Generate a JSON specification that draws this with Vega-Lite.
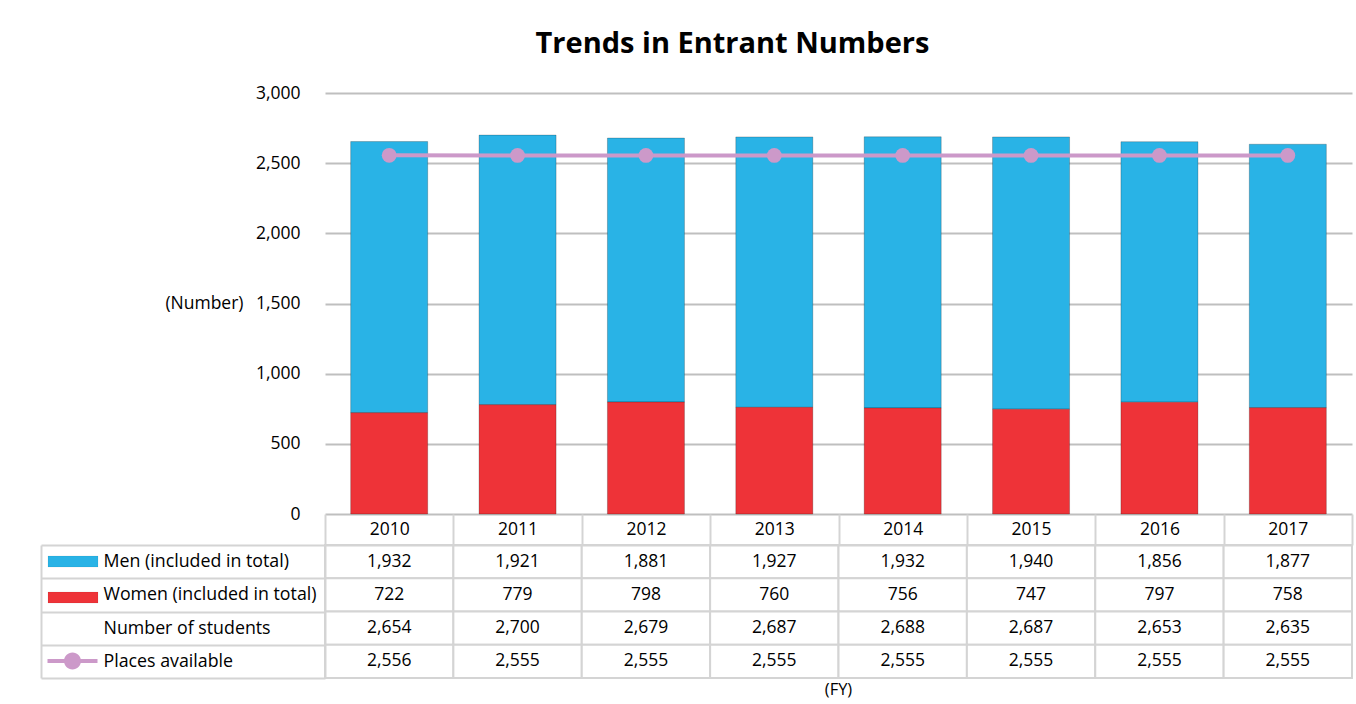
{
  "$schema": "https://vega.github.io/schema/vega-lite/v6.json",
  "background": "white",
  "padding": {"left": 40, "top": 30, "right": 3, "bottom": 0},
  "autosize": {"type": "pad"},
  "config": {
    "font": "Open Sans",
    "view": {"stroke": null},
    "axis": {"labelColor": "black", "titleColor": "black", "labelFont": "Open Sans", "titleFont": "Open Sans"},
    "legend": {"labelFont": "Open Sans"}
  },
  "title": {
    "text": "Trends in Entrant Numbers",
    "font": "Open Sans",
    "fontSize": 29,
    "fontWeight": "bold",
    "color": "black",
    "anchor": "middle",
    "dx": 36,
    "offset": 25
  },
  "data": {
    "values": [
      {"year": 2010, "series": "Men (included in total)", "value": 1932},
      {"year": 2011, "series": "Men (included in total)", "value": 1921},
      {"year": 2012, "series": "Men (included in total)", "value": 1881},
      {"year": 2013, "series": "Men (included in total)", "value": 1927},
      {"year": 2014, "series": "Men (included in total)", "value": 1932},
      {"year": 2015, "series": "Men (included in total)", "value": 1940},
      {"year": 2016, "series": "Men (included in total)", "value": 1856},
      {"year": 2017, "series": "Men (included in total)", "value": 1877},
      {"year": 2010, "series": "Women (included in total)", "value": 722},
      {"year": 2011, "series": "Women (included in total)", "value": 779},
      {"year": 2012, "series": "Women (included in total)", "value": 798},
      {"year": 2013, "series": "Women (included in total)", "value": 760},
      {"year": 2014, "series": "Women (included in total)", "value": 756},
      {"year": 2015, "series": "Women (included in total)", "value": 747},
      {"year": 2016, "series": "Women (included in total)", "value": 797},
      {"year": 2017, "series": "Women (included in total)", "value": 758},
      {"year": 2010, "series": "Number of students", "value": 2654},
      {"year": 2011, "series": "Number of students", "value": 2700},
      {"year": 2012, "series": "Number of students", "value": 2679},
      {"year": 2013, "series": "Number of students", "value": 2687},
      {"year": 2014, "series": "Number of students", "value": 2688},
      {"year": 2015, "series": "Number of students", "value": 2687},
      {"year": 2016, "series": "Number of students", "value": 2653},
      {"year": 2017, "series": "Number of students", "value": 2635},
      {"year": 2010, "series": "Places available", "value": 2556},
      {"year": 2011, "series": "Places available", "value": 2555},
      {"year": 2012, "series": "Places available", "value": 2555},
      {"year": 2013, "series": "Places available", "value": 2555},
      {"year": 2014, "series": "Places available", "value": 2555},
      {"year": 2015, "series": "Places available", "value": 2555},
      {"year": 2016, "series": "Places available", "value": 2555},
      {"year": 2017, "series": "Places available", "value": 2555}
    ]
  },
  "spacing": 31,
  "bounds": "flush",
  "resolve": {
    "scale": {"color": "independent", "fill": "independent"},
    "legend": {"color": "independent", "fill": "independent"}
  },
  "vconcat": [
    {
      "width": 1027,
      "height": 421,
      "layer": [
        {
          "transform": [{"filter": {"field": "series", "oneOf": ["Men (included in total)", "Women (included in total)"]}}],
          "mark": {"type": "bar", "stroke": "rgba(0,0,0,0.22)", "strokeWidth": 1},
          "encoding": {
            "x": {"field": "year", "type": "ordinal", "axis": null, "scale": {"paddingInner": 0.4, "paddingOuter": 0.2}},
            "y": {
              "field": "value", "type": "quantitative", "stack": "zero",
              "scale": {"domain": [0, 3000]},
              "axis": {
                "values": [0, 500, 1000, 1500, 2000, 2500, 3000],
                "format": ",.0f",
                "title": "(Number)",
                "titleAngle": 0,
                "titleAlign": "right",
                "titleBaseline": "middle",
                "titleX": -82,
                "titleY": 210,
                "titleFontWeight": "normal",
                "titleFontSize": 17.5,
                "labelFontSize": 17.5,
                "labelPadding": 25,
                "ticks": false,
                "domain": false,
                "gridColor": "#bfbfbf",
                "gridWidth": 2
              }
            },
            "color": {
              "field": "series", "type": "nominal",
              "scale": {"domain": ["Men (included in total)", "Women (included in total)"], "range": ["#29b3e6", "#ee3338"]},
              "legend": {
                "orient": "none",
                "legendX": -257.5,
                "legendY": 463,
                "title": null,
                "padding": 0,
                "symbolType": "M-5,-1.1H5V1.1H-5Z",
                "symbolSize": 100,
                "symbolStrokeColor": "rgba(0,0,0,0.3)",
                "symbolStrokeWidth": 0.2,
                "rowPadding": 23,
                "labelExpr": "''",
                "labelFontSize": 10
              }
            },
            "order": {"field": "series", "sort": "descending"}
          }
        },
        {
          "transform": [{"filter": {"field": "series", "equal": "Places available"}}],
          "mark": {"type": "line", "color": "#cc99c9", "strokeWidth": 4},
          "encoding": {
            "x": {"field": "year", "type": "ordinal"},
            "y": {"field": "value", "type": "quantitative"}
          }
        },
        {
          "transform": [{"filter": {"field": "series", "equal": "Places available"}}],
          "mark": {"type": "circle", "size": 220, "opacity": 1},
          "encoding": {
            "x": {"field": "year", "type": "ordinal"},
            "y": {"field": "value", "type": "quantitative"},
            "fill": {
              "field": "series", "type": "nominal",
              "scale": {"range": ["#cc99c9"]},
              "legend": {
                "orient": "none",
                "legendX": -257.5,
                "legendY": 563,
                "title": null,
                "padding": 0,
                "symbolType": "M-5,-0.4H5V0.4H-5Z M1.7,0A1.7,1.7,0,1,1,-1.7,0A1.7,1.7,0,1,1,1.7,0Z",
                "symbolSize": 100,
                "symbolStrokeWidth": 0,
                "labelExpr": "''",
                "labelFontSize": 10
              }
            }
          }
        }
      ]
    },
    {
      "width": 1027,
      "height": 133,
      "title": {"text": "(FY)", "orient": "bottom", "anchor": "middle", "fontSize": 16.5, "fontWeight": "normal", "font": "Open Sans", "color": "black", "offset": 3},
      "resolve": {"axis": {"y": "independent"}},
      "layer": [
        {
          "mark": {"type": "rect", "fill": "white", "stroke": "#d4d4d4", "strokeWidth": 2},
          "encoding": {
            "x": {
              "field": "year", "type": "ordinal",
              "scale": {"paddingInner": 0, "paddingOuter": 0},
              "axis": {
                "orient": "top",
                "title": null,
                "tickBand": "extent",
                "tickSize": 31,
                "tickColor": "#d4d4d4",
                "tickWidth": 2,
                "domainColor": "#d4d4d4",
                "domainWidth": 2,
                "labelAngle": 0,
                "labelBaseline": "middle",
                "labelPadding": -15.5,
                "labelFontSize": 17.5
              }
            },
            "y": {
              "field": "series", "type": "nominal",
              "sort": ["Men (included in total)", "Women (included in total)", "Number of students", "Places available"],
              "scale": {"paddingInner": 0, "paddingOuter": 0},
              "axis": {
                "orient": "left",
                "title": null,
                "tickBand": "extent",
                "tickSize": 284,
                "tickColor": "#d4d4d4",
                "tickWidth": 2,
                "domainColor": "#d4d4d4",
                "domainWidth": 2,
                "labelAlign": "left",
                "labelBaseline": "middle",
                "labelPadding": -62,
                "labelFontSize": 17.8,
                "labelLimit": 0
              }
            }
          }
        },
        {
          "mark": {"type": "text", "fontSize": 17.5, "color": "black"},
          "encoding": {
            "x": {"field": "year", "type": "ordinal"},
            "y": {
              "field": "series", "type": "nominal",
              "sort": ["Men (included in total)", "Women (included in total)", "Number of students", "Places available"],
              "axis": {
                "orient": "left",
                "title": null,
                "offset": 284,
                "labels": false,
                "ticks": false,
                "grid": false,
                "domainColor": "#d4d4d4",
                "domainWidth": 2
              }
            },
            "text": {"field": "value", "type": "quantitative", "format": ","}
          }
        }
      ]
    }
  ]
}
